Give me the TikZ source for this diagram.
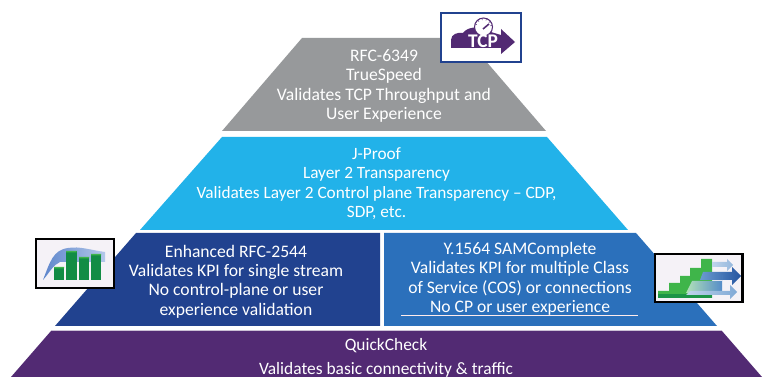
\documentclass[tikz,border=0pt]{standalone}
\usepackage{fontspec}
\setmainfont{Carlito}
\usetikzlibrary{arrows.meta}
\definecolor{tgray}{HTML}{97999B}
\definecolor{tcyan}{HTML}{22B2E9}
\definecolor{tdark}{HTML}{21428F}
\definecolor{tmid}{HTML}{2B70BB}
\definecolor{tpurp}{HTML}{522A73}
\definecolor{iconbg}{HTML}{F5F2F7}
\definecolor{igreen}{HTML}{128C45}
\definecolor{ilight}{HTML}{3FB54A}
\definecolor{curveA}{HTML}{5E86CC}
\definecolor{curveB}{HTML}{B4C8EA}
\tikzset{
  lbl/.style={text=white,align=center,font=\fontsize{13.2pt}{14.55pt}\selectfont,inner sep=0pt},
  lblj/.style={text=white,align=center,font=\fontsize{12.95pt}{14.6pt}\selectfont,inner sep=0pt},
  lblwide/.style={text=white,align=center,font=\fontsize{13.05pt}{17.6pt}\selectfont,inner sep=0pt},
  iconframe/.style={draw=black,line width=1.6pt,fill=iconbg}
}
\begin{document}
\begin{tikzpicture}[x=0.75pt,y=-0.75pt]
\useasboundingbox (0,0) rectangle (771,377);
\fill[white] (0,0) rectangle (771,377);
% tiers
\fill[tgray] (302,38) -- (466,38) -- (546,131) -- (222,131) -- cycle;
\fill[tcyan] (222,137) -- (547,137) -- (628,230) -- (140,230) -- cycle;
\fill[tdark] (136,233) -- (380,233) -- (380,326) -- (55,326) -- cycle;
\fill[tmid] (384,233) -- (636,233) -- (717,326) -- (384,326) -- cycle;
\fill[tpurp] (51,331) -- (722,331) -- (762,377) -- (11,377) -- cycle;
\draw[draw=white!70!tpurp,line width=0.6pt] (51,330.5) -- (722,330.5);
% labels
\node[lbl] (t1) at (384,86) {RFC-6349\\TrueSpeed\\Validates TCP Throughput and\\User Experience};
\node[lblj] (t2) at (376.5,183.5) {J-Proof\\Layer 2 Transparency\\Validates Layer 2 Control plane Transparency – CDP,\\SDP, etc.};
\node[lbl] (t3) at (236,281.5) {Enhanced RFC-2544\\Validates KPI for single stream\\No control-plane or user\\experience validation};
\node[lbl] (t4) at (520,279) {Y.1564 SAMComplete\\Validates KPI for multiple Class\\of Service (COS) or connections\\No CP or user experience};
\node[lblwide] (t5) at (386,358) {QuickCheck\\Validates basic connectivity \& traffic};
\draw[white!70!pink,line width=0.6pt] (401,315.5) -- (638,315.5);
% TCP icon
\draw[draw=tdark,line width=1.7pt,fill=white] (441,13) rectangle (521,62);
\fill[tpurp] (451,48) -- (451,40) .. controls (451,34) and (458,32) .. (463,33)
  .. controls (467,27) and (478,26) .. (484,30) -- (501,35) -- (501,29) -- (515,42) -- (501,54) -- (501,48) -- cycle;
\draw[draw=tpurp,line width=0.8pt,fill=white] (483.5,27) circle (9);
\draw[tpurp,line width=1.2pt] (483,29) -- (489,24);
\foreach \a in {20,50,...,170}{\draw[tpurp,line width=0.4pt] (483.5,27)++(\a:-7) -- ++(\a:-1.5);}
\node[inner sep=0pt,text=white,font=\bfseries\fontsize{14.5pt}{15pt}\selectfont] (tcp) at (483,41.5) {TCP};
% left icon
\draw[iconframe] (36,239) rectangle (114,288);
\shade[left color=curveA,right color=curveB]
  (43,280) .. controls (50,262) and (53,250) .. (68,248) .. controls (80,246) and (90,250) .. (105,252) -- (105,262) -- (60,262) .. controls (53,265) and (50,272) .. (43,280) -- cycle;
\fill[igreen] (54,267) rectangle (64,280);
\fill[igreen] (66,251) rectangle (76.5,280);
\fill[igreen] (79,257) rectangle (89,280);
\fill[igreen] (91,254) rectangle (101,280);
\fill[ilight] (54,267) rectangle (64,268.5) (66,251) rectangle (76.5,252.5) (79,257) rectangle (89,258.5) (91,254) rectangle (101,255.5);
% right icon
\draw[iconframe] (655,254) rectangle (742.5,302);
\fill[ilight] (658,298) -- (658,291) -- (669,291) -- (669,283) -- (680,283) -- (680,276) -- (690,276) -- (690,268) -- (701,268) -- (701,259) -- (712,259) -- (712,298) -- cycle;
\fill[igreen!80!ilight] (658,298) rectangle (712,294);
\shade[left color=tmid!30!white,right color=tmid!50!white] (712,262) -- (727,262) -- (727,259) -- (733,265) -- (727,271) -- (727,267) -- (712,267) -- cycle;
\shade[left color=tmid!70!white,right color=tdark!60!tmid] (703,272) -- (732,272) -- (732,267) -- (741,276) -- (732,285) -- (732,280) -- (700,280) -- cycle;
\shade[left color=ilight!40!white,right color=tmid!80!white] (692,281) -- (722,281) -- (722,275) -- (722,275) -- (722,293) -- (686,293) -- cycle;
\shade[left color=tmid!30!white,right color=tmid!60!white] (690,291) -- (730,291) -- (730,285) -- (737,292) -- (730,299) -- (730,295) -- (686,295) -- cycle;
\end{tikzpicture}
\end{document}
